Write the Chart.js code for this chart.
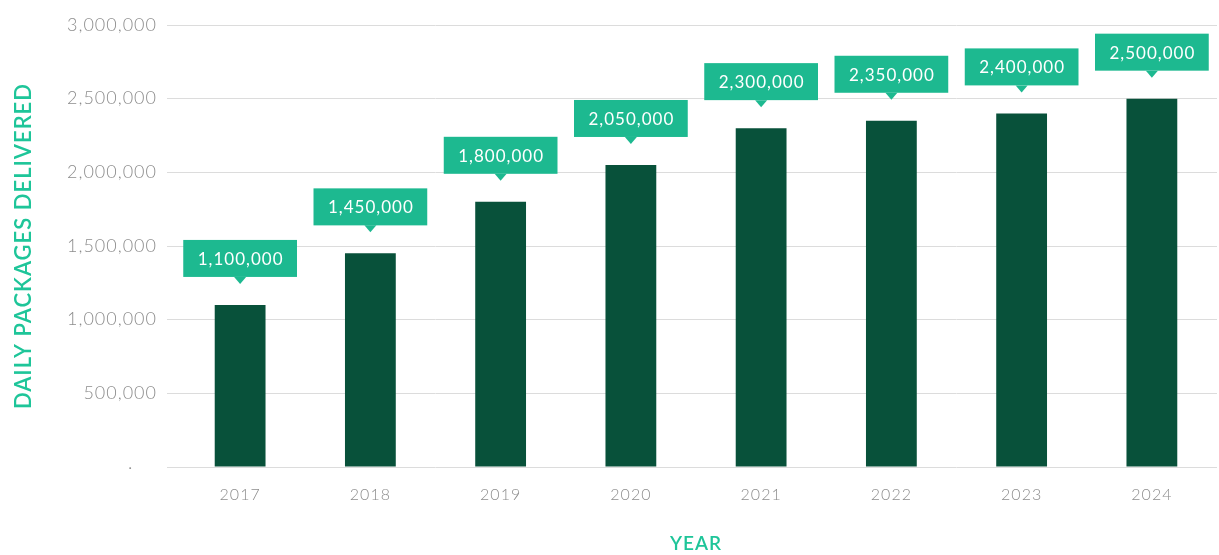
<!DOCTYPE html>
<html>
<head>
<meta charset="utf-8">
<script src="https://cdn.jsdelivr.net/npm/chart.js@4.4.1/dist/chart.umd.min.js"></script>
<style>
  html, body { margin: 0; padding: 0; background: #fff; }
  #wrap { width: 1219px; height: 555px; position: relative; }
</style>
</head>
<body>
<div id="wrap"><canvas id="myChart"></canvas></div>
<script>
const years = ['2017', '2018', '2019', '2020', '2021', '2022', '2023', '2024'];
const packages = [1100000, 1450000, 1800000, 2050000, 2300000, 2350000, 2400000, 2500000];
const yTicks = [0, 500000, 1000000, 1500000, 2000000, 2500000, 3000000];

const barColor = '#08513a';
const boxColor = '#1db990';
const titleColor = '#1ec599';
const tickColor = '#8d8d8d';
const fam = 'Lato, "Noto Sans", sans-serif';

// the original uses a wide geometric font, so spread letters a bit
const spacing = {
  id: 'spacing',
  beforeUpdate(chart) { chart.ctx.letterSpacing = '1px'; },
  beforeDraw(chart) { chart.ctx.letterSpacing = '1px'; }
};

// green value boxes with a small pointer above each bar
const valueBoxes = {
  id: 'valueBoxes',
  afterDatasetsDraw(chart) {
    const c = chart.ctx;
    const meta = chart.getDatasetMeta(0);
    c.save();
    c.font = '17px ' + fam;
    c.textAlign = 'center';
    c.textBaseline = 'middle';
    meta.data.forEach((bar, i) => {
      const text = packages[i].toLocaleString('en-US');
      const w = c.measureText(text).width + 28;
      const h = 37;
      const bottom = bar.y - 28;
      c.fillStyle = boxColor;
      c.fillRect(bar.x - w / 2, bottom - h, w, h);
      c.beginPath();
      c.moveTo(bar.x - 6, bottom);
      c.lineTo(bar.x + 6, bottom);
      c.lineTo(bar.x, bottom + 7);
      c.closePath();
      c.fill();
      c.fillStyle = '#ffffff';
      c.fillText(text, bar.x + 0.5, bottom - h / 2 + 1);
    });
    c.restore();
  }
};

const ctx = document.getElementById('myChart');

let chart = new Chart(ctx, {
  type: 'bar',
  data: {
    labels: years,
    datasets: [{
      label: 'Daily packages delivered',
      data: packages,
      backgroundColor: barColor,
      barPercentage: 0.39,
      categoryPercentage: 1
    }]
  },
  options: {
    responsive: true,
    maintainAspectRatio: false,
    animation: false,
    layout: { padding: { top: 25, right: 2, left: 0, bottom: 0 } },
    plugins: {
      legend: { display: false },
      tooltip: { enabled: false }
    },
    scales: {
      x: {
        grid: { display: false, drawTicks: false },
        border: { display: false },
        ticks: {
          color: tickColor,
          padding: 18,
          font: { family: fam, size: 16, weight: 300 }
        },
        title: {
          display: true,
          text: 'YEAR',
          color: titleColor,
          padding: { top: 4, bottom: 0 },
          font: { family: fam, size: 19, weight: 600 }
        },
        afterFit(scale) { scale.height = 88; }
      },
      y: {
        min: 0,
        max: 3000000,
        afterBuildTicks(scale) { scale.ticks = yTicks.map(v => ({ value: v })); },
        grid: { color: '#dcdcdc', tickLength: 8, lineWidth: 1 },
        border: { display: false },
        ticks: {
          color: tickColor,
          padding: 10,
          font: { family: fam, size: 18, weight: 300 },
          callback: v => v === 0 ? '·    ' : v.toLocaleString('en-US')
        },
        title: {
          display: true,
          text: 'DAILY PACKAGES DELIVERED',
          color: titleColor,
          padding: { top: 11, bottom: 0 },
          font: { family: fam, size: 22, weight: 600 }
        },
        afterFit(scale) { scale.width = 175; }
      }
    }
  },
  plugins: [spacing, valueBoxes]
});
</script>
</body>
</html>
